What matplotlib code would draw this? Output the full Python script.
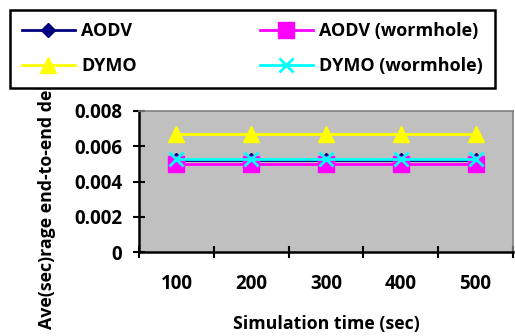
import matplotlib
matplotlib.use("Agg")
import matplotlib.pyplot as plt

categories = ["100", "200", "300", "400", "500"]
aodv = [0.0052, 0.0052, 0.0052, 0.0052, 0.0052]
aodv_wh = [0.0050, 0.0050, 0.0050, 0.0050, 0.0050]
dymo = [0.0067, 0.0067, 0.0067, 0.0067, 0.0067]
dymo_wh = [0.0053, 0.0053, 0.0053, 0.0053, 0.0053]
yticks = [0, 0.002, 0.004, 0.006, 0.008]
ytick_labels = ["0", "0.002", "0.004", "0.006", "0.008"]

plt.rcParams['font.family'] = ['Open Sans', 'DejaVu Sans']
plt.rcParams['font.weight'] = 'bold'

fig = plt.figure(figsize=(5.15, 3.36), dpi=100)
ax = fig.add_axes([139/515, 1-252/336, (513-139)/515, (252-111)/336])
ax.set_facecolor('#C0C0C0')

x = list(range(len(categories)))
h1, = ax.plot(x, aodv, color='#000080', marker='D', markersize=7, lw=2, label='AODV')
h2, = ax.plot(x, aodv_wh, color='#FF00FF', marker='s', markersize=11, lw=2, label='AODV (wormhole)')
h3, = ax.plot(x, dymo, color='#FFFF00', marker='^', markersize=12, lw=2, label='DYMO')
h4, = ax.plot(x, dymo_wh, color='#00FFFF', marker='x', markersize=10, mew=2, lw=2, label='DYMO (wormhole)')

ax.set_xlim(-0.5, len(categories) - 0.5)
ax.set_ylim(0, 0.008)
ax.set_yticks(yticks)
ax.set_yticklabels(ytick_labels, fontsize=13.5, fontweight='bold')
ax.set_xticks([i - 0.5 for i in range(len(categories) + 1)])
ax.set_xticklabels([])
ax.set_xticks(x, minor=True)
ax.set_xticklabels(categories, minor=True, fontsize=13.5, fontweight='bold')
ax.tick_params(axis='x', which='minor', length=0, pad=16)
ax.tick_params(axis='x', which='major', direction='inout', length=8, width=1.5)
ax.tick_params(axis='y', direction='inout', length=8, width=1.5, pad=8)
for s in ['left', 'bottom']:
    ax.spines[s].set_linewidth(1.8)
    ax.spines[s].set_color('black')
for s in ['top', 'right']:
    ax.spines[s].set_linewidth(1.2)
    ax.spines[s].set_color('#808080')

fig.text(326/515, 1-324/336, 'Simulation time (sec)', ha='center', va='center',
         fontsize=12.8, fontweight='bold')
fig.text(47/515, 1-196/336, 'Ave(sec)rage end-to-end delay', ha='center', va='center',
         rotation=90, fontsize=12.8, fontweight='bold')

leg = fig.legend([h1, h3, h2, h4], ['AODV', 'DYMO', 'AODV (wormhole)', 'DYMO (wormhole)'],
                 loc='upper left', bbox_to_anchor=(10/515, 1-85/336, 485/515, 75/336),
                 mode='expand', ncol=2, borderaxespad=0,
                 frameon=True, fancybox=False, edgecolor='black', framealpha=1,
                 prop={'weight': 'bold', 'size': 13}, handlelength=2.9,
                 borderpad=0.68, labelspacing=0.95, handletextpad=0.35)
leg.get_frame().set_linewidth(1.8)
leg.set_zorder(10)

fig.savefig('out.png', dpi=100)
